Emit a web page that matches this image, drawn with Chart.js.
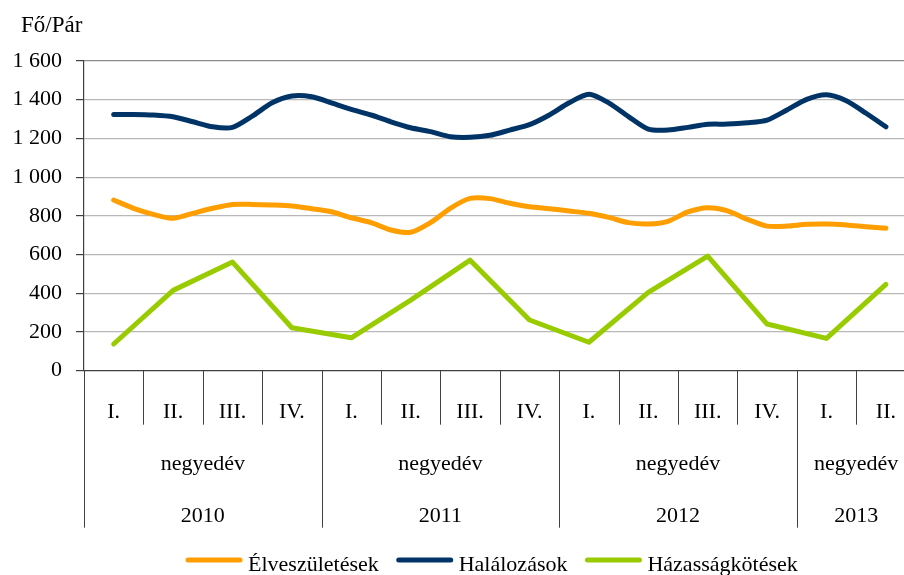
<!DOCTYPE html>
<html>
<head>
<meta charset="utf-8">
<script src="https://cdn.jsdelivr.net/npm/chart.js@4/dist/chart.umd.min.js"></script>
<style>
html,body{margin:0;padding:0;background:#fff;overflow:hidden;width:904px;height:575px;}
canvas{display:block;}
</style>
</head>
<body>
<canvas id="c" width="920" height="575"></canvas>
<script>
// ---- data ----
const quarterLabels = ['I.','II.','III.','IV.','I.','II.','III.','IV.','I.','II.','III.','IV.','I.','II.'];
const yearLabels = ['2010','2011','2012','2013'];
const quartersPerYear = [4,4,4,2];
const periodLabel = 'negyedév';
const yTicks = [0,200,400,600,800,1000,1200,1400,1600];
const unitLabel = 'Fő/Pár';
const seriesNames = ['Élveszületések','Halálozások','Házasságkötések'];
// monthly readings (from the 2nd month of 2010 I. to the 2nd month of 2013 II.)
const births = [882,839,808,787,813,839,859,859,856,851,837,821,790,765,727,715,765,839,890,889,865,847,837,825,813,792,765,758,772,820,842,826,782,747,747,756,758,753,744,736];
const deaths = [1324,1324,1321,1312,1286,1260,1257,1315,1384,1419,1415,1384,1350,1321,1286,1255,1235,1209,1206,1216,1243,1271,1321,1384,1428,1384,1313,1248,1243,1257,1273,1274,1281,1295,1347,1402,1426,1395,1330,1260];
// quarterly values
const marriages = [138,415,561,222,170,365,571,262,147,405,592,241,167,446];

const colors = ['#FF9E00','#003466','#99CC00'];
const FONT = '"Liberation Serif", "Times New Roman", serif';

const monthly = arr => arr.map((v,i)=>({x:0.5+i/3,y:v}));
const quarterly = arr => arr.map((v,i)=>({x:0.5+i,y:v}));

const fmt = v => String(v).replace(/\B(?=(\d{3})+(?!\d))/g,' ');

const tablePlugin = {
  id:'tablePlugin',
  afterDraw(chart){
    const ctx = chart.ctx;
    const xs = chart.scales.x, ys = chart.scales.y;
    const y0 = ys.getPixelForValue(0);
    const px = q => xs.getPixelForValue(q);
    ctx.save();
    // axis line
    ctx.strokeStyle = '#404040';
    ctx.lineWidth = 1.3;
    ctx.beginPath(); ctx.moveTo(px(0), y0); ctx.lineTo(px(quarterLabels.length), y0); ctx.stroke();
    ctx.lineWidth = 1;
    // group boundaries
    let q = 0;
    const groupBounds = [0];
    quartersPerYear.forEach(n=>{ q+=n; groupBounds.push(q); });
    for(let i=0;i<=quarterLabels.length;i++){
      const isGroup = groupBounds.includes(i);
      const x = Math.round(px(i))+0.5;
      ctx.beginPath(); ctx.moveTo(x,y0); ctx.lineTo(x, isGroup? y0+157 : y0+54); ctx.stroke();
    }
    ctx.fillStyle = '#000';
    ctx.font = '22px '+FONT;
    ctx.textAlign = 'center';
    ctx.textBaseline = 'alphabetic';
    quarterLabels.forEach((t,i)=>{ ctx.fillText(t, px(i+0.5), y0+47); });
    for(let g=0; g<yearLabels.length; g++){
      const cx = (px(groupBounds[g])+px(groupBounds[g+1]))/2;
      ctx.fillText(periodLabel, cx, y0+99);
      ctx.fillText(yearLabels[g], cx, y0+151);
    }
    // unit label
    ctx.textAlign = 'left';
    ctx.font = '23px '+FONT;
    ctx.fillText(unitLabel, 21, 32);
    ctx.font = '22px '+FONT;
    // legend
    let lx = 186;
    const ly = 560;
    ctx.lineCap = 'round';
    seriesNames.forEach((name,i)=>{
      ctx.strokeStyle = colors[i];
      ctx.lineWidth = 5;
      ctx.beginPath(); ctx.moveTo(lx+2, ly); ctx.lineTo(lx+54, ly); ctx.stroke();
      ctx.fillText(name, lx+62, 571);
      lx += 62 + ctx.measureText(name).width + 18;
    });
    ctx.restore();
  }
};

new Chart(document.getElementById('c'), {
  type:'line',
  data:{
    datasets:[
      {label:seriesNames[0], data:monthly(births), borderColor:colors[0], borderWidth:5, tension:0.25, pointRadius:0, borderCapStyle:'round', borderJoinStyle:'round', order:2},
      {label:seriesNames[1], data:monthly(deaths), borderColor:colors[1], borderWidth:5, tension:0.25, pointRadius:0, borderCapStyle:'round', borderJoinStyle:'round', order:1},
      {label:seriesNames[2], data:quarterly(marriages), borderColor:colors[2], borderWidth:5, tension:0, pointRadius:0, borderCapStyle:'round', borderJoinStyle:'round', order:3}
    ]
  },
  options:{
    responsive:false,
    animation:false,
    devicePixelRatio:1,
    layout:{padding:{left:0, top:61, right:4.4, bottom:204.3}},
    plugins:{legend:{display:false}, tooltip:{enabled:false}, title:{display:false}},
    scales:{
      x:{type:'linear', min:0, max:quarterLabels.length, display:false},
      y:{
        min:0, max:1600,
        afterFit(s){ s.width = 84; },
        afterBuildTicks(s){ s.ticks = yTicks.map(v=>({value:v})); },
        ticks:{padding:14, color:'#000', font:{family:FONT, size:22}, callback:v=>fmt(v)},
        grid:{
          color:ctx=> ctx.tick && ctx.tick.value===1600 ? '#8c8c8c' : (ctx.tick && ctx.tick.value===0 ? 'rgba(0,0,0,0)' : '#b8b8b8'),
          tickColor:'#404040', tickLength:8, lineWidth:1.2
        },
        border:{color:'#404040', width:1.2}
      }
    }
  },
  plugins:[tablePlugin]
});
</script>
</body>
</html>
